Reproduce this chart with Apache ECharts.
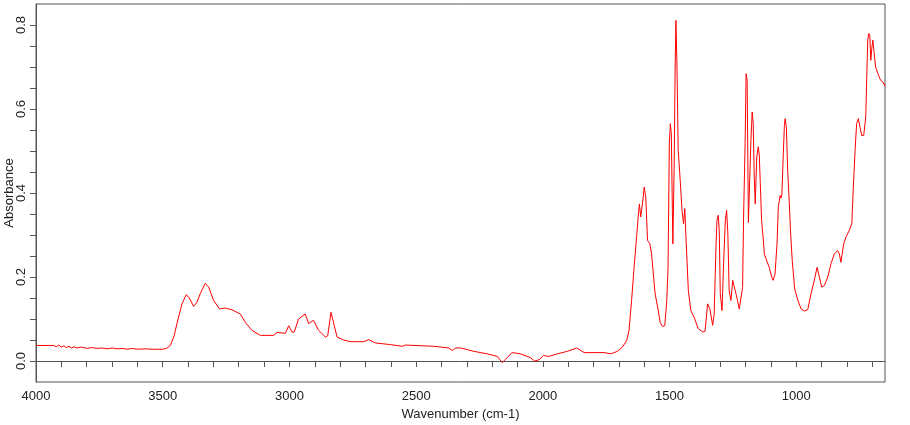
<!DOCTYPE html>
<html>
<head>
<meta charset="utf-8">
<script src="https://cdn.jsdelivr.net/npm/echarts@6/dist/echarts.min.js"></script>
<style>
html,body{margin:0;padding:0;background:#fff;}
#chart{width:910px;height:425px;}
</style>
</head>
<body>
<div id="chart"></div>
<script>
// Wavenumber (cm-1), descending
const wavenumber = [4000,3930,3920,3910,3900,3890,3880,3870,3860,3850,3840,3820,3800,3780,3760,3740,3720,3700,3680,3660,3640,3620,3600,3570,3540,3500,3485,3470,3455,3444,3424,3407,3395,3378,3365,3352,3332,3319,3299,3276,3253,3227,3194,3174,3148,3115,3062,3049,3016,3003,2990,2981,2964,2938,2924,2905,2885,2858,2849,2836,2825,2812,2786,2760,2707,2687,2661,2601,2555,2542,2430,2371,2357,2344,2324,2272,2219,2180,2160,2140,2121,2088,2049,2033,2015,1998,1976,1943,1903,1866,1837,1758,1732,1706,1686,1669,1660,1650,1640,1629,1624,1619,1614,1607,1600,1594,1587,1578,1571,1563,1557,1547,1537,1528,1519,1511,1506,1501,1497,1493,1489,1487,1482,1478,1475,1471,1466,1458,1451,1445,1440,1436,1426,1416,1403,1387,1369,1360,1350,1341,1330,1324,1317,1313,1308,1304,1300,1293,1287,1280,1275,1270,1265,1258,1251,1245,1238,1232,1225,1218,1212,1208,1202,1198,1194,1189,1185,1179,1174,1170,1166,1162,1156,1150,1146,1142,1137,1131,1126,1120,1113,1107,1097,1091,1084,1076,1071,1064,1060,1057,1051,1047,1044,1039,1034,1028,1023,1016,1007,1005,994,981,968,955,942,929,918,909,900,889,876,863,850,837,830,824,813,804,791,781,775,768,762,755,748,742,734,726,722,718,714,710,706,702,698,694,687,678,667,658,650];
// Absorbance
const absorbance = [0.037,0.037,0.034,0.038,0.033,0.036,0.032,0.035,0.031,0.034,0.031,0.033,0.030,0.032,0.030,0.031,0.029,0.031,0.029,0.030,0.028,0.030,0.028,0.029,0.028,0.028,0.030,0.037,0.060,0.089,0.136,0.158,0.150,0.130,0.140,0.160,0.185,0.176,0.144,0.124,0.126,0.122,0.112,0.092,0.073,0.061,0.061,0.068,0.066,0.084,0.069,0.069,0.100,0.112,0.089,0.097,0.073,0.057,0.060,0.116,0.089,0.057,0.050,0.046,0.046,0.051,0.043,0.039,0.035,0.038,0.035,0.031,0.025,0.031,0.031,0.023,0.017,0.011,-0.004,0.009,0.020,0.017,0.008,0.000,0.003,0.013,0.011,0.017,0.023,0.031,0.020,0.020,0.017,0.023,0.033,0.049,0.073,0.144,0.223,0.303,0.343,0.374,0.343,0.374,0.414,0.390,0.287,0.279,0.255,0.200,0.160,0.128,0.092,0.082,0.084,0.144,0.223,0.517,0.565,0.541,0.359,0.279,0.462,0.700,0.811,0.708,0.502,0.430,0.359,0.327,0.363,0.303,0.168,0.120,0.104,0.077,0.069,0.071,0.136,0.124,0.085,0.112,0.271,0.335,0.347,0.311,0.160,0.120,0.232,0.335,0.359,0.303,0.168,0.144,0.192,0.190,0.160,0.144,0.124,0.124,0.175,0.343,0.517,0.684,0.668,0.330,0.327,0.525,0.593,0.565,0.440,0.374,0.486,0.510,0.490,0.422,0.335,0.295,0.255,0.244,0.240,0.223,0.200,0.192,0.207,0.279,0.366,0.394,0.388,0.396,0.497,0.561,0.577,0.555,0.454,0.382,0.311,0.239,0.176,0.168,0.145,0.124,0.119,0.122,0.160,0.192,0.223,0.200,0.176,0.180,0.200,0.232,0.255,0.263,0.255,0.235,0.279,0.295,0.311,0.327,0.414,0.502,0.565,0.577,0.555,0.537,0.537,0.581,0.676,0.764,0.780,0.775,0.716,0.745,0.764,0.740,0.700,0.684,0.668,0.664,0.654];
// Tick positions and labels
const xLabelValues = [4000,3500,3000,2500,2000,1500,1000];
const xTickValues = [4000,3900,3800,3700,3600,3500,3400,3300,3200,3100,3000,2900,2800,2700,2600,2500,2400,2300,2200,2100,2000,1900,1800,1700,1600,1500,1400,1300,1200,1100,1000,900,800,700];
const yLabelValues = [0,0.2,0.4,0.6,0.8];
const yTickValues = [0,0.05,0.1,0.15,0.2,0.25,0.3,0.35,0.4,0.45,0.5,0.55,0.6,0.65,0.7,0.75,0.8];

const points = wavenumber.map((w, i) => [w, absorbance[i]]);
const font = 'Liberation Sans, Arial, sans-serif';
const chart = echarts.init(document.getElementById('chart'), null, {renderer: 'canvas'});
chart.setOption({
  animation: false,
  backgroundColor: '#fff',
  grid: {left: 36, right: 25, top: 4, bottom: 43, show: true, borderColor: '#555', borderWidth: 1,
    containLabel: false, outerBoundsMode: 'none'},
  xAxis: {
    type: 'value', inverse: true, min: 650, max: 4000,
    name: 'Wavenumber (cm-1)', nameLocation: 'middle', nameGap: 26, nameMoveOverlap: false,
    nameTextStyle: {fontFamily: font, fontSize: 13, color: '#222'},
    axisLine: {show: true, lineStyle: {color: '#555', width: 1}},
    axisTick: {show: true, length: 6, customValues: xTickValues, lineStyle: {color: '#555'}},
    axisLabel: {customValues: xLabelValues, fontFamily: font, fontSize: 13, color: '#222', margin: 8,
      formatter: v => String(v)},
    splitLine: {show: false}
  },
  yAxis: {
    type: 'value', min: -0.05, max: 0.85,
    name: 'Absorbance', nameLocation: 'middle', nameGap: 20, nameRotate: 90, nameMoveOverlap: false,
    nameTextStyle: {fontFamily: font, fontSize: 13, color: '#222'},
    axisLine: {show: true, lineStyle: {color: '#555', width: 1}},
    axisTick: {show: true, length: 6, customValues: yTickValues, lineStyle: {color: '#555'}},
    axisLabel: {customValues: yLabelValues, rotate: 90, fontFamily: font, fontSize: 13, color: '#222', margin: 8,
      formatter: v => v.toFixed(1)},
    splitLine: {show: false}
  },
  series: [{
    type: 'line', data: points, showSymbol: false, symbol: 'none',
    lineStyle: {color: '#ff0000', width: 1}, smooth: false
  }]
});
</script>
</body>
</html>
